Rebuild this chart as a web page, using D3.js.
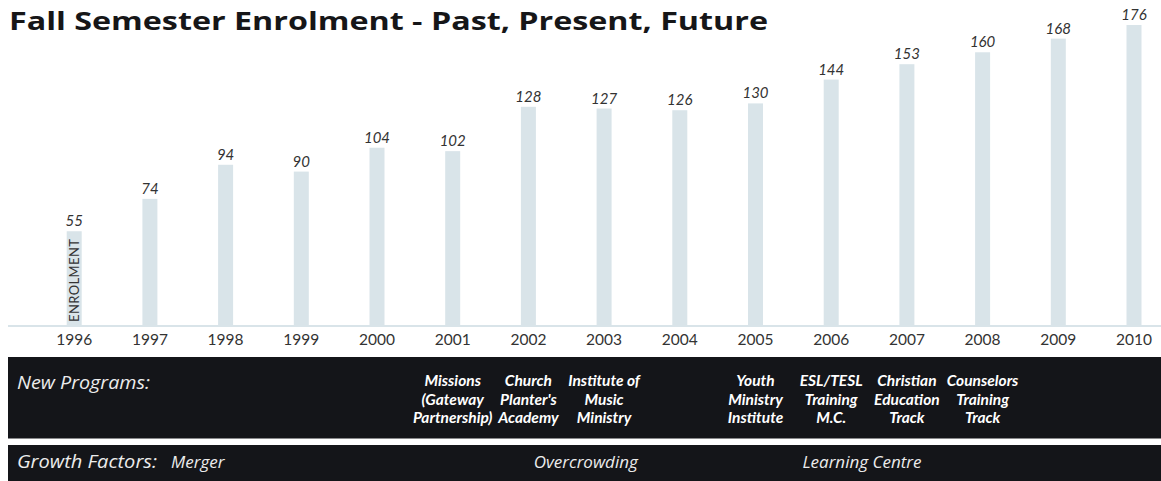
<!DOCTYPE html>
<html>
<head>
<meta charset="utf-8">
<script src="https://cdn.jsdelivr.net/npm/d3@7"></script>
<style>
  html, body { margin: 0; padding: 0; background: #fff; }
  svg { display: block; }
</style>
</head>
<body>
<svg id="chart" width="1161" height="481"></svg>
<script>
const years = ["1996","1997","1998","1999","2000","2001","2002","2003","2004","2005","2006","2007","2008","2009","2010"];
const enrolment = [55, 74, 94, 90, 104, 102, 128, 127, 126, 130, 144, 153, 160, 168, 176];
const programYears = ["2001","2002","2003","2005","2006","2007","2008"];
const programNames = [
  ["Missions", "(Gateway", "Partnership)"],
  ["Church", "Planter's", "Academy"],
  ["Institute of", "Music", "Ministry"],
  ["Youth", "Ministry", "Institute"],
  ["ESL/TESL", "Training", "M.C."],
  ["Christian", "Education", "Track"],
  ["Counselors", "Training", "Track"]
];
// position (in fractional years) where each growth factor label starts
const growthAt = [1997.28, 2002.07, 2005.62];
const growthNames = ["Merger", "Overcrowding", "Learning Centre"];
const titleText = "Fall Semester Enrolment - Past, Present, Future";

const W = 1161, H = 481;
const svg = d3.select("#chart");
const font = "Lato, 'Open Sans', sans-serif";
const font2 = "'Open Sans', Lato, sans-serif";

const pad = 1 - 15 / 75.7;
const x = d3.scaleBand().domain(years).range([36.35, 1171.85]).paddingInner(pad).paddingOuter(pad / 2);
const xc = d => x(d) + x.bandwidth() / 2;
const xYear = d3.scaleLinear().domain([1996, 2010]).range([xc("1996"), xc("2010")]);
const y = d3.scaleLinear().domain([0, 176]).range([325, 25]);

// title
svg.append("text")
  .attr("x", 9).attr("y", 30)
  .attr("font-family", font2).attr("font-weight", 700).attr("font-size", 25)
  .attr("fill", "#161618")
  .attr("textLength", 759).attr("lengthAdjust", "spacingAndGlyphs")
  .text(titleText);

// bars
svg.append("g").selectAll("rect").data(years).join("rect")
  .attr("x", d => x(d)).attr("width", x.bandwidth())
  .attr("y", (d, i) => y(enrolment[i])).attr("height", (d, i) => y(0) - y(enrolment[i]))
  .attr("fill", "#d9e4e9");

// value labels
svg.append("g").selectAll("text").data(years).join("text")
  .attr("x", d => xc(d)).attr("y", (d, i) => y(enrolment[i]) - 5)
  .attr("text-anchor", "middle")
  .attr("font-family", font).attr("font-style", "italic").attr("font-size", 15)
  .attr("fill", "#333").text((d, i) => enrolment[i]);

// axis
const axis = d3.axisBottom(x).tickSize(0).tickPadding(9);
const ag = svg.append("g").attr("transform", `translate(0,${y(0)})`).call(axis);
ag.select(".domain").remove();
ag.selectAll("text").attr("font-family", font).attr("font-size", 15.5).attr("fill", "#333");
svg.append("line").attr("x1", 8).attr("x2", W).attr("y1", y(0) + 1).attr("y2", y(0) + 1)
  .attr("stroke", "#d9e4e9").attr("stroke-width", 2);

// ENROLMENT label inside first bar
svg.append("text")
  .attr("transform", `translate(${xc("1996") + 4.5},${y(0) - 3}) rotate(-90)`)
  .attr("font-family", font).attr("font-size", 13).attr("fill", "#333")
  .attr("letter-spacing", 0.4)
  .text("ENROLMENT");

// bands
const bandColor = "#141519";
svg.append("rect").attr("x", 8).attr("y", 357).attr("width", W - 8).attr("height", 81.5).attr("fill", bandColor);
svg.append("rect").attr("x", 8).attr("y", 445).attr("width", W - 8).attr("height", 36).attr("fill", bandColor);

svg.append("text").attr("x", 17).attr("y", 389)
  .attr("font-family", font2).attr("font-style", "italic").attr("font-size", 18)
  .attr("textLength", 133).attr("lengthAdjust", "spacingAndGlyphs")
  .attr("fill", "#ececec").text("New Programs:");

const pg = svg.append("g").selectAll("text").data(programYears).join("text")
  .attr("text-anchor", "middle")
  .attr("font-family", font).attr("font-style", "italic").attr("font-weight", 700).attr("font-size", 15.5)
  .attr("fill", "#fff");
pg.each(function(d, i) {
  const t = d3.select(this);
  programNames[i].forEach((line, j) => {
    t.append("tspan").attr("x", xc(d)).attr("y", 386 + j * 18.5).text(line);
  });
});

svg.append("text").attr("x", 17).attr("y", 468)
  .attr("font-family", font2).attr("font-style", "italic").attr("font-size", 18)
  .attr("textLength", 140).attr("lengthAdjust", "spacingAndGlyphs")
  .attr("fill", "#ececec").text("Growth Factors:");

svg.append("g").selectAll("text").data(growthNames).join("text")
  .attr("x", (d, i) => xYear(growthAt[i])).attr("y", 468)
  .attr("font-family", font2).attr("font-style", "italic").attr("font-size", 17)
  .attr("fill", "#ececec").text(d => d);
</script>
</body>
</html>
